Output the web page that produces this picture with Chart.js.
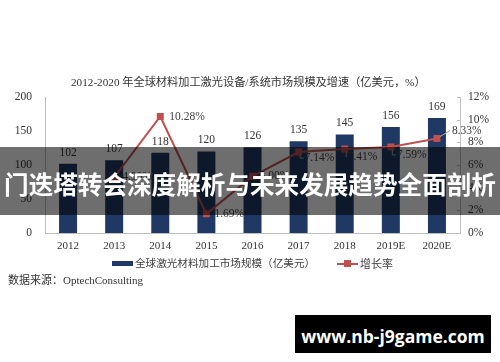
<!DOCTYPE html>
<html>
<head>
<meta charset="utf-8">
<script src="https://cdn.jsdelivr.net/npm/chart.js@4/dist/chart.umd.min.js"></script>
<style>
  html, body { margin: 0; padding: 0; background: #fff; }
  #wrap { position: relative; width: 500px; height: 362px; overflow: hidden; background: #fff; }
  #c { position: absolute; left: 0; top: 0; }
  .txt { position: absolute; white-space: nowrap; color: #333; }
  #title { left: 71px; top: 74px; font: 11.2px 'Liberation Serif', 'Noto Sans CJK SC', serif; line-height: 16px; }
  #source { left: 8px; top: 272px; font: 11px 'Liberation Serif', 'Noto Sans CJK SC', serif; line-height: 16px; }
  .leg { position: absolute; top: 256px; font: 10.6px 'Liberation Serif', 'Noto Sans CJK SC', serif; line-height: 16px; color: #404040; white-space: nowrap; }
  .sw-bar { position: absolute; width: 21px; height: 5px; background: #1F3864; }
  .sw-line { position: absolute; width: 21px; height: 2px; background: #C0504D; }
  .sw-mark { position: absolute; width: 7px; height: 7px; background: #C0504D; }
  #band { position: absolute; left: 0; top: 147px; width: 500px; height: 68px; background: rgba(0,0,0,0.57);
          color: #fff; font: bold 24.6px 'Noto Sans CJK SC', sans-serif; line-height: 72px; text-align: center; white-space: nowrap; letter-spacing: 0px; }
  #wm { position: absolute; left: 295px; top: 315px; width: 196px; height: 38px; background: #000;
        color: #fff; font: bold 17.5px 'Open Sans', 'DejaVu Sans', sans-serif; line-height: 42px; text-align: center; white-space: nowrap; }
</style>
</head>
<body>
<div id="wrap">
  <canvas id="c" width="500" height="362"></canvas>
  <div id="title" class="txt">2012-2020 年全球材料加工激光设备/系统市场规模及增速（亿美元，%）</div>
  <div class="sw-bar" style="left:112px; top:261px;"></div>
  <div class="leg" style="left:135px;">全球激光材料加工市场规模（亿美元）</div>
  <div class="sw-line" style="left:337px; top:263px;"></div>
  <div class="sw-mark" style="left:344px; top:260px;"></div>
  <div class="leg" style="left:360px; font-size:11px;">增长率</div>
  <div id="source" class="txt">数据来源：OptechConsulting</div>
  <div id="band">门迭塔转会深度解析与未来发展趋势全面剖析</div>
  <div id="wm">www.nb-j9game.com</div>
</div>
<script>
// ---- data ----
const categories = ['2012', '2013', '2014', '2015', '2016', '2017', '2018', '2019E', '2020E'];
const marketSize = [102, 107, 118, 120, 126, 135, 145, 156, 169];
const growthRate = [null, 4.90, 10.28, 1.69, 5.00, 7.14, 7.41, 7.59, 8.33];
const leftTicks = [0, 50, 100, 150, 200];
const rightTicks = [0, 2, 4, 6, 8, 10, 12];
const barSeriesName = '全球激光材料加工市场规模（亿美元）';
const lineSeriesName = '增长率';

// label placement for growth-rate labels (offset from point, leader flag)
const growthLabelPlacement = [
  null,
  { dx: 8, dy: 0, leader: 'none' },
  { dx: 9, dy: 0, leader: 'none' },
  { dx: 8, dy: 0, leader: 'none' },
  { dx: 7, dy: 0, leader: 'none' },
  { dx: 6, dy: 6, leader: 'L' },
  { dx: 3, dy: 8, leader: 'L' },
  { dx: 6, dy: 8, leader: 'L' },
  { dx: 15, dy: -8, leader: 'diag' }
];

const NAVY = '#1F3864';
const RED = '#C0504D';
const AXIS = '#bfbfbf';
const SERIF = "'Liberation Serif', 'Times New Roman', serif";

const labelPlugin = {
  id: 'labels',
  afterDatasetsDraw(chart) {
    const ctx = chart.ctx;
    ctx.save();
    // bar value labels
    const barMeta = chart.getDatasetMeta(0);
    ctx.font = '11.5px ' + SERIF;
    ctx.fillStyle = '#333';
    ctx.textAlign = 'center';
    ctx.textBaseline = 'middle';
    barMeta.data.forEach((el, i) => {
      ctx.fillText(String(marketSize[i]), el.x, el.y - 11);
    });
    // line labels
    const lineMeta = chart.getDatasetMeta(1);
    ctx.textAlign = 'left';
    lineMeta.data.forEach((el, i) => {
      const v = growthRate[i];
      const p = growthLabelPlacement[i];
      if (v === null || !p) return;
      const tx = el.x + p.dx, ty = el.y + p.dy;
      ctx.strokeStyle = '#a6a6a6';
      ctx.lineWidth = 1;
      if (p.leader === 'L') {
        ctx.beginPath();
        ctx.moveTo(el.x + 1.5, el.y + 3);
        ctx.lineTo(el.x + 1.5, ty);
        ctx.lineTo(tx - 1, ty);
        ctx.stroke();
      } else if (p.leader === 'diag') {
        ctx.beginPath();
        ctx.moveTo(el.x + 3, el.y - 2);
        ctx.lineTo(tx - 2, ty);
        ctx.stroke();
      }
      ctx.fillStyle = '#404040';
      ctx.fillText(v.toFixed(2) + '%', tx, ty);
    });
    // inward tick marks on right axis
    const y1 = chart.scales.y1;
    ctx.strokeStyle = AXIS;
    ctx.lineWidth = 1;
    rightTicks.forEach(t => {
      const py = Math.round(y1.getPixelForValue(t)) + 0.5;
      ctx.beginPath();
      ctx.moveTo(y1.left - 3, py);
      ctx.lineTo(y1.left, py);
      ctx.stroke();
    });
    ctx.restore();
  }
};

new Chart(document.getElementById('c'), {
  type: 'bar',
  data: {
    labels: categories,
    datasets: [
      {
        type: 'bar',
        label: barSeriesName,
        data: marketSize,
        backgroundColor: NAVY,
        barPercentage: 0.39,
        categoryPercentage: 1.0,
        yAxisID: 'y',
        order: 1
      },
      {
        type: 'line',
        label: lineSeriesName,
        data: growthRate,
        borderColor: RED,
        backgroundColor: RED,
        borderWidth: 2,
        pointStyle: 'rect',
        pointRadius: 3.5,
        pointBackgroundColor: RED,
        pointBorderColor: RED,
        tension: 0,
        yAxisID: 'y1',
        order: 0
      }
    ]
  },
  options: {
    responsive: false,
    animation: false,
    devicePixelRatio: 1,
    layout: { padding: { top: 97, left: 0, right: 0, bottom: 0 } },
    plugins: { legend: { display: false }, tooltip: { enabled: false }, title: { display: false } },
    scales: {
      x: {
        grid: { display: false, drawTicks: false },
        border: { display: true, color: AXIS, width: 1 },
        ticks: { color: '#333', font: { family: SERIF, size: 11 }, padding: 7, maxRotation: 0, autoSkip: false },
        afterFit(s) { s.height = 129; }
      },
      y: {
        position: 'left',
        min: 0, max: 200,
        grid: { display: false, drawTicks: false },
        border: { display: true, color: AXIS, width: 1 },
        afterBuildTicks(s) { s.ticks = leftTicks.map(v => ({ value: v })); },
        ticks: { color: '#333', font: { family: SERIF, size: 11.5 }, padding: 13 },
        afterFit(s) { s.width = 45; }
      },
      y1: {
        position: 'right',
        min: 0, max: 12,
        grid: { display: false, drawTicks: false },
        border: { display: true, color: AXIS, width: 1 },
        afterBuildTicks(s) { s.ticks = rightTicks.map(v => ({ value: v })); },
        ticks: { color: '#333', font: { family: SERIF, size: 11.5 }, padding: 8, callback: v => v + '%' },
        afterFit(s) { s.width = 40; }
      }
    }
  },
  plugins: [labelPlugin]
});
</script>
</body>
</html>
